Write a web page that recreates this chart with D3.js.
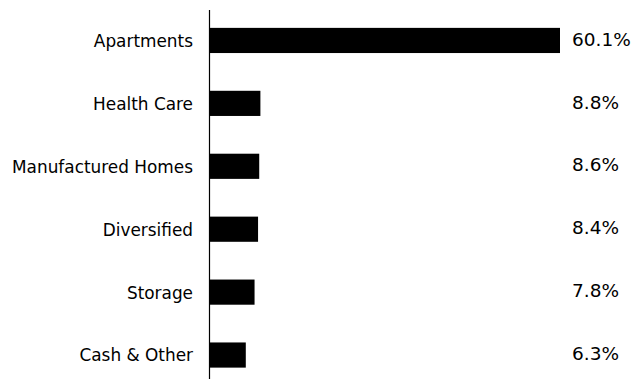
<!DOCTYPE html>
<html>
<head>
<meta charset="utf-8">
<script src="https://cdn.jsdelivr.net/npm/d3@7"></script>
<style>
  body { margin: 0; background: #fff; }
  text { font-family: "DejaVu Sans", sans-serif; fill: #000; }
</style>
</head>
<body>
<svg id="chart"></svg>
<script>
// sector weights
var categories = ["Apartments", "Health Care", "Manufactured Homes", "Diversified", "Storage", "Cash & Other"];
var values = [60.1, 8.8, 8.6, 8.4, 7.8, 6.3];
var valueLabels = ["60.1%", "8.8%", "8.6%", "8.4%", "7.8%", "6.3%"];

var width = 636;
var height = 379;
var axisX = 209;

var svg = d3.select("#chart")
  .attr("width", width)
  .attr("height", height);

var yScale = d3.scaleBand()
  .domain(categories)
  .range([9, 386.5])
  .paddingInner(0.6)
  .paddingOuter(0.3);

var xScale = d3.scaleLinear()
  .domain([0, d3.max(values)])
  .range([axisX, 560]);

var data = categories.map(function(c, i) {
  return { cat: c, value: values[i], label: valueLabels[i] };
});

svg.selectAll("rect.bar")
  .data(data)
  .enter()
  .append("rect")
  .attr("class", "bar")
  .attr("x", xScale(0))
  .attr("y", function(d) { return yScale(d.cat); })
  .attr("width", function(d) { return xScale(d.value) - xScale(0); })
  .attr("height", yScale.bandwidth())
  .attr("fill", "#000");

// y axis, no ticks
var yAxis = svg.append("g")
  .attr("transform", "translate(" + axisX + ",0)")
  .call(d3.axisLeft(yScale).tickSize(0).tickPadding(16));

yAxis.select(".domain")
  .attr("d", "M0.5,10V386")
  .attr("stroke", "#000")
  .attr("stroke-width", 1.2);

yAxis.selectAll("text")
  .attr("dy", "0.38em")
  .style("font-size", "16.9px")
  .style("font-family", "'DejaVu Sans', sans-serif");

svg.selectAll("text.val")
  .data(data)
  .enter()
  .append("text")
  .attr("class", "val")
  .attr("x", 572)
  .attr("y", function(d) { return yScale(d.cat) + yScale.bandwidth() / 2; })
  .attr("dy", "0.28em")
  .style("font-size", "18.5px")
  .text(function(d) { return d.label; });
</script>
</body>
</html>
